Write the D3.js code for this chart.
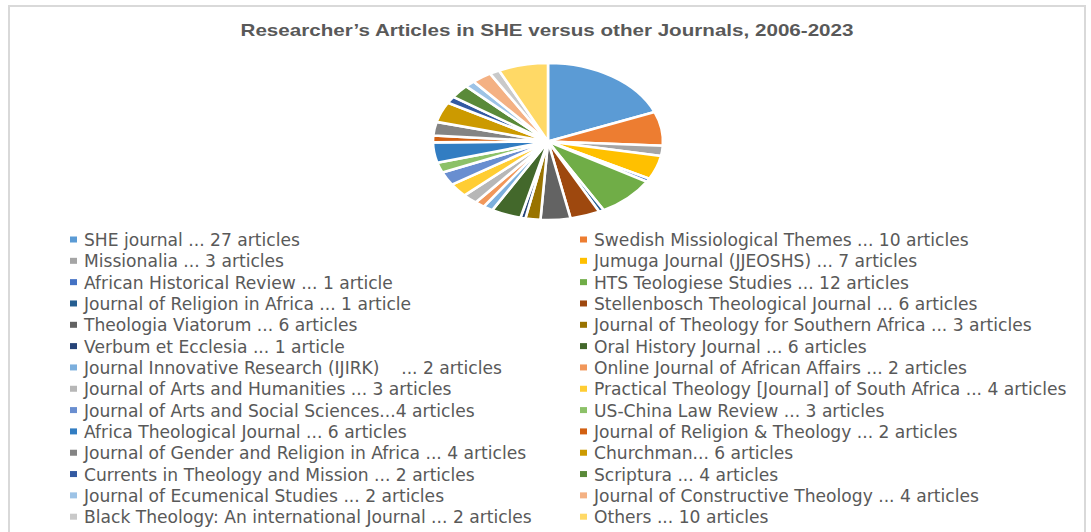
<!DOCTYPE html>
<html>
<head>
<meta charset="utf-8">
<script src="https://cdn.jsdelivr.net/npm/d3@7"></script>
<style>
  html, body { margin: 0; padding: 0; background: #ffffff; }
  svg { display: block; }
</style>
</head>
<body>
<svg id="chart" width="1091" height="532"></svg>
<script>
const titleText = "Researcher\u2019s Articles in SHE versus other Journals, 2006-2023";

const journals = [
  "SHE journal ... 27 articles",
  "Swedish Missiological Themes ... 10 articles",
  "Missionalia ... 3 articles",
  "Jumuga Journal (JJEOSHS) ... 7 articles",
  "African Historical Review ... 1 article",
  "HTS Teologiese Studies ... 12 articles",
  "Journal of Religion in Africa ... 1 article",
  "Stellenbosch Theological Journal ... 6 articles",
  "Theologia Viatorum ... 6 articles",
  "Journal of Theology for Southern Africa ... 3 articles",
  "Verbum et Ecclesia ... 1 article",
  "Oral History Journal ... 6 articles",
  "Journal Innovative Research (IJIRK)    ... 2 articles",
  "Online Journal of African Affairs ... 2 articles",
  "Journal of Arts and Humanities ... 3 articles",
  "Practical Theology [Journal] of South Africa ... 4 articles",
  "Journal of Arts and Social Sciences...4 articles",
  "US-China Law Review ... 3 articles",
  "Africa Theological Journal ... 6 articles",
  "Journal of Religion & Theology ... 2 articles",
  "Journal of Gender and Religion in Africa ... 4 articles",
  "Churchman... 6 articles",
  "Currents in Theology and Mission ... 2 articles",
  "Scriptura ... 4 articles",
  "Journal of Ecumenical Studies ... 2 articles",
  "Journal of Constructive Theology ... 4 articles",
  "Black Theology: An international Journal ... 2 articles",
  "Others ... 10 articles"
];

const articles = [27, 10, 3, 7, 1, 12, 1, 6, 6, 3, 1, 6, 2, 2, 3, 4, 4, 3, 6, 2, 4, 6, 2, 4, 2, 4, 2, 10];

const palette = [
  "#5B9BD5", "#ED7D31", "#A5A5A5", "#FFC000", "#4472C4", "#70AD47",
  "#255E91", "#9E480E", "#636363", "#997300", "#264478", "#43682B",
  "#7CAFDD", "#F1975A", "#B7B7B7", "#FFCD33", "#698ED0", "#8CC168",
  "#327DC2", "#D26012", "#848484", "#CC9A00", "#335AA1", "#5A8A39",
  "#9DC3E6", "#F4B183", "#C9C9C9", "#FFD966"
];

const svg = d3.select("#chart");

// chart frame
svg.append("rect")
  .attr("x", 9).attr("y", 6)
  .attr("width", 1076).attr("height", 540)
  .attr("fill", "#ffffff")
  .attr("stroke", "#d9d9d9").attr("stroke-width", 2);

// title
svg.append("text")
  .attr("x", 547).attr("y", 36)
  .attr("text-anchor", "middle")
  .attr("font-family", "'Liberation Sans', Arial, sans-serif")
  .attr("font-weight", "bold")
  .attr("font-size", 17)
  .attr("fill", "#595959")
  .attr("textLength", 613)
  .attr("lengthAdjust", "spacingAndGlyphs")
  .text(titleText);

// pie (elliptical)
const cx = 548, cy = 141.5, rx = 115, ry = 78.5;
const color = d3.scaleOrdinal().domain(journals).range(palette);
const pie = d3.pie().value(d => d.v).sort(null);
const R = 100;
const arc = d3.arc().innerRadius(0).outerRadius(R);
const data = journals.map((n, i) => ({ name: n, v: articles[i] }));

const g = svg.append("g")
  .attr("transform", `translate(${cx},${cy}) scale(${rx / R},${ry / R})`);
g.selectAll("path")
  .data(pie(data))
  .join("path")
  .attr("d", arc)
  .attr("fill", d => color(d.data.name))
  .attr("stroke", "#ffffff")
  .attr("stroke-width", 2.6)
  .attr("stroke-linejoin", "round")
  .attr("vector-effect", "non-scaling-stroke");

// legend
const rowY = d3.scaleLinear().domain([0, 13]).range([240, 517.2]);
const colText = [84, 594];
const legend = svg.append("g")
  .attr("font-family", "'DejaVu Sans', Verdana, sans-serif")
  .attr("fill", "#595959")
  .style("white-space", "pre");

// fit font size so first label matches reference width
const probe = legend.append("text").attr("font-size", 15).text(journals[0]);
const natural = probe.node().getComputedTextLength();
probe.remove();
const fs = 15 * 216 / natural;

journals.forEach((name, i) => {
  const col = i % 2, row = Math.floor(i / 2);
  const y = rowY(row);
  const tx = colText[col];
  legend.append("rect")
    .attr("x", tx - 14).attr("y", y - 3.5)
    .attr("width", 7).attr("height", 6)
    .attr("fill", color(name));
  legend.append("text")
    .attr("x", tx).attr("y", y)
    .attr("dy", "0.36em")
    .attr("font-size", fs)
    .attr("fill", "#595959")
    .attr("xml:space", "preserve")
    .style("white-space", "pre")
    .text(name);
});
</script>
</body>
</html>
